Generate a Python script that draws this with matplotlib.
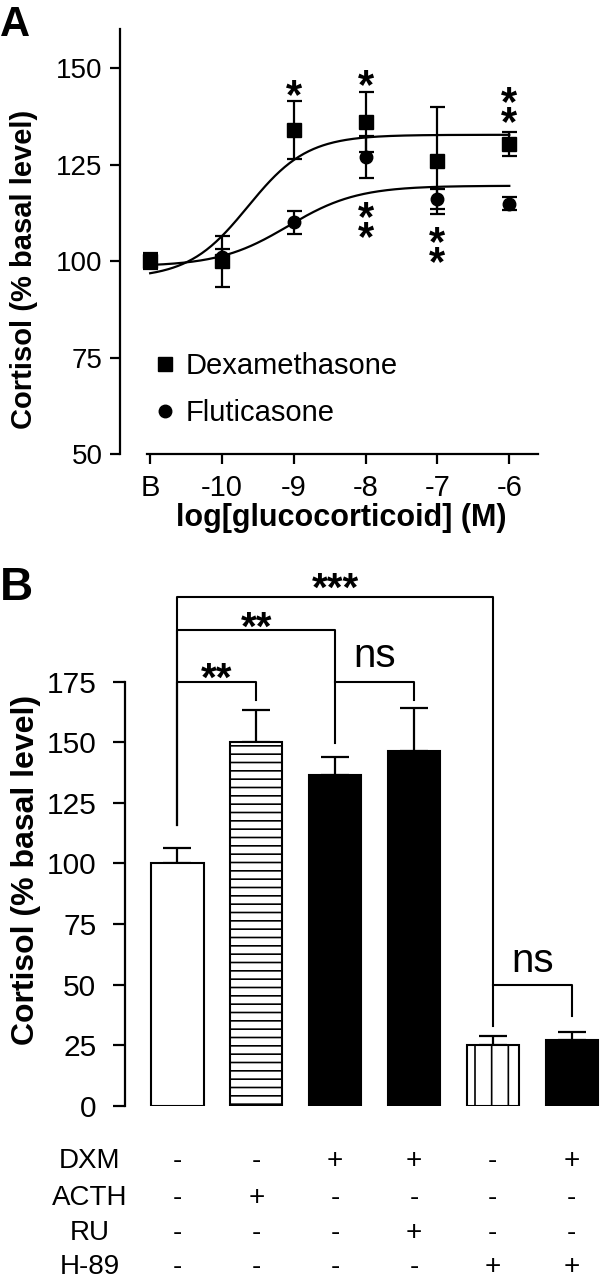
import numpy as np
import matplotlib
matplotlib.use('Agg')
import matplotlib.pyplot as plt

plt.rcParams['font.family'] = ['Liberation Sans', 'DejaVu Sans']
plt.rcParams['hatch.linewidth'] = 1.2

# ---- Panel A: concentration response ----
conc = [-11, -10, -9, -8, -7, -6]
conc_labels = ['B', '-10', '-9', '-8', '-7', '-6']
dex_y = [100, 100, 134, 136, 126, 130.3]
dex_err = [2, 6.6, 7.5, 7.8, 13.8, 3]
flu_y = [100, 101, 110, 127, 116, 114.8]
flu_err = [1.5, 2, 3, 5.5, 2.6, 1.7]

# sigmoid fit parameters (bottom, top, logEC50, hill)
dex_fit = [95.5, 132.7, -9.64, 1.05]
flu_fit = [98.6, 119.5, -9.08, 0.9]

# significance stars: x, centre of the upper star, how many stacked
starA_x = [-9, -8, -6, -8, -7]
starA_y = [145.6, 148.2, 143.9, 114.1, 107.6]
starA_n = [1, 1, 2, 2, 2]

# ---- Panel B: bar chart ----
groups = [0, 1, 2, 3, 4, 5]
cort = [100, 150, 136.6, 146.6, 25.2, 27.1]
cort_err = [6.3, 13.5, 7.2, 17.4, 3.7, 3.4]
bar_colors = ['white', 'white', 'black', 'black', 'white', 'black']
bar_hatch = ['', '--', '', '', '|', '']

# brackets: x left, x right, height, left leg bottom, right leg bottom
brackets = [(0, 4, 210, 115.8, 33.1),
            (0, 2, 196.2, 115.8, 149.5),
            (0, 1, 175, 115.8, 167.4),
            (2, 3, 175, 175, 167.4),
            (4, 5, 50, 50, 36.9)]
sig_text = ['***', '**', '**', 'ns', 'ns']
sig_y = [217.6, 201.5, 180.7, 185.4, 59.6]

treat_names = ['DXM', 'ACTH', 'RU', 'H-89']
treat_rows = [['-', '-', '+', '+', '-', '+'],
              ['-', '+', '-', '-', '-', '-'],
              ['-', '-', '-', '+', '-', '-'],
              ['-', '-', '-', '-', '+', '+']]
row_y = [-22.9, -38.0, -52.2, -66.4]


def logistic(x, p):
    return p[0] + (p[1] - p[0]) / (1 + 10 ** ((p[2] - x) * p[3]))


fig = plt.figure(figsize=(6, 12.79), dpi=100)

# Panel A
ax1 = fig.add_axes([0.2, 0.645, 0.6967, 0.332])
xs = np.linspace(conc[0], conc[-1], 300)
ax1.plot(xs, logistic(xs, dex_fit), color='black', lw=1.6)
ax1.plot(xs, logistic(xs, flu_fit), color='black', lw=1.6)
ax1.errorbar(conc, dex_y, yerr=dex_err, fmt='none', ecolor='black',
             elinewidth=1.6, capsize=5.4, capthick=1.6)
ax1.errorbar(conc, flu_y, yerr=flu_err, fmt='none', ecolor='black',
             elinewidth=1.6, capsize=5.4, capthick=1.6)
l1, = ax1.plot(conc, dex_y, 's', color='black', ms=9.5, ls='none',
               label='Dexamethasone')
l2, = ax1.plot(conc, flu_y, 'o', color='black', ms=9, ls='none',
               label='Fluticasone')
fs = 30
for x, y, n in zip(starA_x, starA_y, starA_n):
    ax1.annotate('\n'.join(['*'] * n), xy=(x, y), xytext=(0, 0.18 * fs),
                 textcoords='offset points', ha='center', va='top',
                 fontsize=fs, fontweight='bold', linespacing=0.35)

ax1.set_xlim(-11.42, -5.6)
ax1.set_ylim(50, 160)
ax1.set_xticks(conc)
ax1.set_xticklabels(conc_labels)
ax1.set_yticks([50, 75, 100, 125, 150])
ax1.spines['top'].set_visible(False)
ax1.spines['right'].set_visible(False)
ax1.spines['bottom'].set_bounds(-11.04, -5.6)
for s in ['left', 'bottom']:
    ax1.spines[s].set_linewidth(1.6)
ax1.tick_params(axis='both', length=7.5, width=1.6)
ax1.tick_params(axis='y', pad=5, labelsize=20)
ax1.tick_params(axis='x', pad=7, labelsize=21)
ax1.set_xlabel('log[glucocorticoid] (M)', fontsize=22, fontweight='bold',
               va='center')
ax1.xaxis.set_label_coords(0.530, -0.15)
ax1.set_ylabel('Cortisol (% basal level)', fontsize=21, fontweight='bold',
               va='center')
ax1.yaxis.set_label_coords(-0.2297, 0.434)
ax1.legend(handles=[l1, l2], loc='upper left', bbox_to_anchor=(0.08, 0.24),
           frameon=False, fontsize=21, handlelength=0.8, handletextpad=0.3,
           labelspacing=0.65, borderaxespad=0, borderpad=0)
fig.text(0.0, 1 - 5 / 1279, 'A', fontsize=30, fontweight='bold',
         ha='left', va='top')

# Panel B
ax2 = fig.add_axes([125 / 600, 0.1353, 475 / 600, 0.436])
ax2.patch.set_visible(False)
bars = ax2.bar(groups, cort, width=0.66, color=bar_colors,
               edgecolor='black', linewidth=1.5, zorder=2)
for b, h in zip(bars, bar_hatch):
    b.set_hatch(h)
ax2.errorbar(groups, cort, yerr=[np.zeros(len(cort)), cort_err], fmt='none',
             ecolor='black', elinewidth=1.6, capsize=10, capthick=1.6,
             zorder=1)
for (xl, xr, h, bl, br), t, ty in zip(brackets, sig_text, sig_y):
    ax2.plot([xl, xl, xr, xr], [bl, h, h, br], color='black', lw=1.5,
             clip_on=False)
    xm = (xl + xr) / 2
    if t == 'ns':
        ax2.text(xm, ty, t, ha='center', va='center', fontsize=29,
                 clip_on=False)
    else:
        ax2.annotate(t, xy=(xm, ty), xytext=(0, 0.18 * 29),
                     textcoords='offset points', ha='center', va='top',
                     fontsize=29, fontweight='bold', annotation_clip=False)

for name, row, y in zip(treat_names, treat_rows, row_y):
    ax2.text(-1.114, y, name, ha='center', va='center', fontsize=20,
             clip_on=False)
    for g, sym in zip(groups, row):
        ax2.text(g, y, sym, ha='center', va='center', fontsize=20,
                 clip_on=False)

ax2.set_xlim(-0.666, 5.36)
ax2.set_ylim(0, 230)
ax2.set_xticks([])
ax2.set_yticks([0, 25, 50, 75, 100, 125, 150, 175])
for s in ['top', 'right', 'bottom']:
    ax2.spines[s].set_visible(False)
ax2.spines['left'].set_bounds(0, 175)
ax2.spines['left'].set_linewidth(1.6)
ax2.tick_params(axis='y', labelsize=21.5, length=8.6, width=1.6, pad=12)
ax2.set_ylabel('Cortisol (% basal level)', fontsize=23, fontweight='bold',
               va='center')
ax2.yaxis.set_label_coords(-0.2088, 0.424)
fig.text(0.0, 1 - 566 / 1279, 'B', fontsize=33, fontweight='bold',
         ha='left', va='top')

fig.savefig('out.png', dpi=100)
